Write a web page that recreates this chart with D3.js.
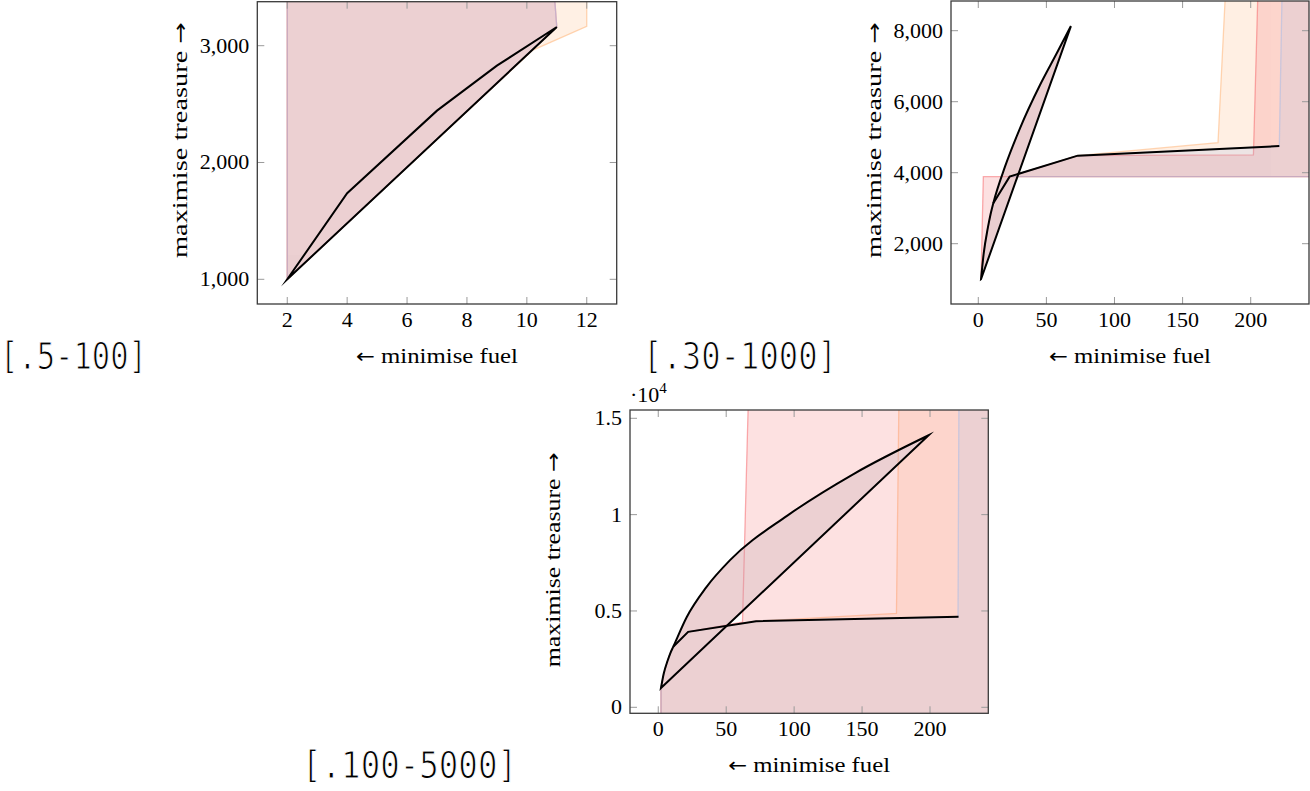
<!DOCTYPE html>
<html>
<head>
<meta charset="utf-8">
<script src="https://cdn.jsdelivr.net/npm/d3@7"></script>
<style>
  body { margin: 0; background: #fff; }
  svg { display: block; }
</style>
</head>
<body>
<div id="chart"></div>
<script>
// ---- DATA (fuel, treasure) ----
var curve1 = [[2, 1000], [4, 1737], [7, 2444], [9, 2829], [11, 3160]]
var chord1 = [[2, 1000], [11, 3160]]
var orange1 = [[2, 3500], [2, 1000], [10.2, 2962], [12, 3165], [12, 3500]]
var red1 = [[2, 3500], [2, 1000], [11, 3160], [10.9, 3500]]
var purple1 = [[2, 3500], [2, 1000], [11, 3160], [10.9, 3500]]

var curve2 = [[2, 1000], [4, 1737], [7, 2444], [9, 2829], [11, 3140], [19.6, 4169], [30.6, 5251], [45.3, 6470], [57.6, 7363], [68, 8130]]
var chord2 = [[2, 1000], [68, 8130]]
var front2 = [[11, 3140], [23, 3890], [73, 4480], [221, 4750]]
var orange2 = [[23, 3890], [260, 3890], [260, 9500], [182, 9500], [176, 4845], [73, 4480]]
var red2 = [[2, 1000], [3.7, 3887], [260, 3887], [260, 9500], [205.6, 9500], [202, 4500], [73, 4480], [23, 3890], [11, 3140], [7, 2444], [4, 1737]]
var purple2 = [[23, 3890], [260, 3890], [260, 9500], [223.2, 9500], [221, 4750], [73, 4480]]

var curve3 = [[2, 1000], [4, 1737], [7, 2444], [9, 2829], [11, 3140], [21, 4690], [35, 6200], [53, 7650], [95, 9950], [144, 12120], [199, 14120]]
var chord3 = [[2, 1000], [199, 14120]]
var front3 = [[11, 3140], [22, 3917], [72, 4472], [221, 4700]]
var red3 = [[2, -1500], [2, 1000], [4, 1737], [7, 2444], [9, 2829], [11, 3140], [22, 3917], [62, 4420], [66.5, 16500], [260, 16500], [260, -1500]]
var orange3 = [[2, -1500], [2, 1000], [4, 1737], [7, 2444], [9, 2829], [11, 3140], [22, 3917], [72, 4472], [175.3, 4870], [177.2, 16500], [260, 16500], [260, -1500]]
var purple3 = [[2, -1500], [2, 1000], [4, 1737], [7, 2444], [9, 2829], [11, 3140], [22, 3917], [72, 4472], [220.6, 4700], [221.3, 16500], [260, 16500], [260, -1500]]

var xTicks1 = [2, 4, 6, 8, 10, 12]
var yTicks1 = [1000, 2000, 3000]
var xTicks23 = [0, 50, 100, 150, 200]
var yTicks2 = [2000, 4000, 6000, 8000]
var yTicks3 = [0, 5000, 10000, 15000]

var captions = ["[.5-100]", "[.30-1000]", "[.100-5000]"]

// fill colours, drawn in this order
var layerColor = { orange: "rgb(255,180,120)", red: "rgb(245,105,110)", purple: "rgb(168,188,232)" }

var W = 1310, H = 791
var svg = d3.select("#chart").append("svg").attr("width", W).attr("height", H)

var serif = "'Liberation Serif', 'DejaVu Serif', serif"
var comma = d3.format(",")

var plots = [
  { id: "p1", box: { x: 257.3, y: 1.7, w: 359.4, h: 302.3 }, xd: [1, 13], yd: [788.5, 3376.7],
    xt: xTicks1, yt: yTicks1, yf: comma, layers: { orange: [orange1], red: [red1], purple: [purple1] },
    curve: curve1, chord: chord1, front: null, smooth: false, ylen: 236 },
  { id: "p2", box: { x: 951, y: 1, w: 358, h: 303 }, xd: [-20.04, 242.8], yd: [301.4, 8836.6],
    xt: xTicks23, yt: yTicks2, yf: comma, layers: { orange: [orange2], red: [red2], purple: [purple2] },
    curve: curve2, chord: chord2, front: front2, smooth: true, ylen: 236 },
  { id: "p3", box: { x: 630, y: 410, w: 358.3, h: 303.3 }, xd: [-20.8, 242.9], yd: [-311.4, 15430.8],
    xt: xTicks23, yt: yTicks3, yf: function(d) { return d3.format("~g")(d / 1e4) }, layers: { orange: [orange3], red: [red3], purple: [purple3] },
    curve: curve3, chord: chord3, front: front3, smooth: true, ylen: 215, expo: true }
]

plots.forEach(function(p) {
  var b = p.box
  var x = d3.scaleLinear().domain(p.xd).range([b.x, b.x + b.w])
  var y = d3.scaleLinear().domain(p.yd).range([b.y + b.h, b.y])
  var line = d3.line().x(function(d) { return x(d[0]) }).y(function(d) { return y(d[1]) })
  var cline = d3.line().x(function(d) { return x(d[0]) }).y(function(d) { return y(d[1]) })
    .curve(p.smooth ? d3.curveMonotoneX : d3.curveLinear)

  // closed bow: curve out, chord back
  var bowD = cline(p.curve) + "L" + x(p.chord[0][0]) + "," + y(p.chord[0][1]) + "Z"

  svg.append("clipPath").attr("id", "clip-" + p.id)
    .append("rect").attr("x", b.x).attr("y", b.y).attr("width", b.w).attr("height", b.h)

  var g = svg.append("g").attr("clip-path", "url(#clip-" + p.id + ")")

  ;["orange", "red", "purple"].forEach(function(name) {
    var lg = g.append("g").attr("opacity", 0.2)
    lg.selectAll("path.poly").data(p.layers[name]).enter().append("path")
      .attr("class", "poly")
      .attr("d", function(d) { return line(d) + "Z" })
      .attr("fill", layerColor[name])
    lg.append("path").attr("d", bowD).attr("fill", layerColor[name])
    g.selectAll(null).data(p.layers[name]).enter().append("path")
      .attr("d", function(d) { return line(d) + "Z" })
      .attr("fill", "none")
      .attr("stroke", layerColor[name])
      .attr("stroke-opacity", 0.55)
      .attr("stroke-width", 1.3)
  })

  // black curves
  g.append("path")
    .attr("d", bowD)
    .attr("fill", "none").attr("stroke", "#000").attr("stroke-width", 2)
    .attr("stroke-linejoin", "miter").attr("stroke-miterlimit", 10)
  if (p.front) {
    g.append("path")
      .attr("d", line(p.front))
      .attr("fill", "none").attr("stroke", "#000").attr("stroke-width", 2)
  }

  // ticks (inward, all four sides)
  var tk = 7
  var tg = svg.append("g").attr("stroke", "#9a9a9a").attr("stroke-width", 1)
  p.xt.forEach(function(t) {
    tg.append("line").attr("x1", x(t)).attr("x2", x(t)).attr("y1", b.y + b.h).attr("y2", b.y + b.h - tk)
    tg.append("line").attr("x1", x(t)).attr("x2", x(t)).attr("y1", b.y).attr("y2", b.y + tk)
  })
  p.yt.forEach(function(t) {
    tg.append("line").attr("y1", y(t)).attr("y2", y(t)).attr("x1", b.x).attr("x2", b.x + tk)
    tg.append("line").attr("y1", y(t)).attr("y2", y(t)).attr("x1", b.x + b.w).attr("x2", b.x + b.w - tk)
  })

  svg.append("rect").attr("x", b.x).attr("y", b.y).attr("width", b.w).attr("height", b.h)
    .attr("fill", "none").attr("stroke", "#3a3a3a").attr("stroke-width", 1.3)

  // tick labels
  svg.append("g").selectAll("text").data(p.xt).enter().append("text")
    .attr("x", function(d) { return x(d) }).attr("y", b.y + b.h + 23)
    .attr("text-anchor", "middle").style("font-family", serif).style("font-size", "22px")
    .text(function(d) { return d })
  svg.append("g").selectAll("text").data(p.yt).enter().append("text")
    .attr("x", b.x - 8).attr("y", function(d) { return y(d) + 7 })
    .attr("text-anchor", "end").style("font-family", serif).style("font-size", "22px")
    .text(p.yf)

  // axis labels
  var xl = svg.append("text")
    .attr("x", b.x + b.w / 2 - 81).attr("y", b.y + b.h + 59)
    .attr("textLength", 162).attr("lengthAdjust", "spacingAndGlyphs")
    .style("font-family", serif).style("font-size", "22px")
  xl.append("tspan").style("font-family", "'DejaVu Sans'").style("font-size", "20px").text("\u2190")
  xl.append("tspan").text(" minimise fuel")

  var yl = svg.append("text")
    .attr("transform", "translate(" + (b.x - 70) + "," + (b.y + b.h - 46) + ") rotate(-90)")
    .attr("textLength", p.ylen).attr("lengthAdjust", "spacingAndGlyphs")
    .style("font-family", serif).style("font-size", "22px")
  yl.append("tspan").text("maximise treasure ")
  yl.append("tspan").style("font-family", "'DejaVu Sans'").style("font-size", "20px").text("\u2192")

  if (p.expo) {
    var et = svg.append("text").attr("x", b.x).attr("y", b.y - 8)
      .style("font-family", serif).style("font-size", "22px")
    et.append("tspan").text("\u00b710")
    et.append("tspan").attr("dy", -9).style("font-size", "15px").text("4")
  }
})

// captions
var capPos = [{ x: 0, y: 369, w: 147 }, { x: 643, y: 369, w: 194 }, { x: 302, y: 778, w: 215 }]
svg.append("g").selectAll("text").data(captions).enter().append("text")
  .attr("x", function(d, i) { return capPos[i].x })
  .attr("y", function(d, i) { return capPos[i].y })
  .attr("textLength", function(d, i) { return capPos[i].w })
  .attr("lengthAdjust", "spacingAndGlyphs")
  .style("font-family", "'DejaVu Sans Mono', monospace")
  .style("font-size", "37px")
  .attr("stroke", "#fff").attr("stroke-width", 1.1)
  .text(function(d) { return d })
</script>
</body>
</html>
